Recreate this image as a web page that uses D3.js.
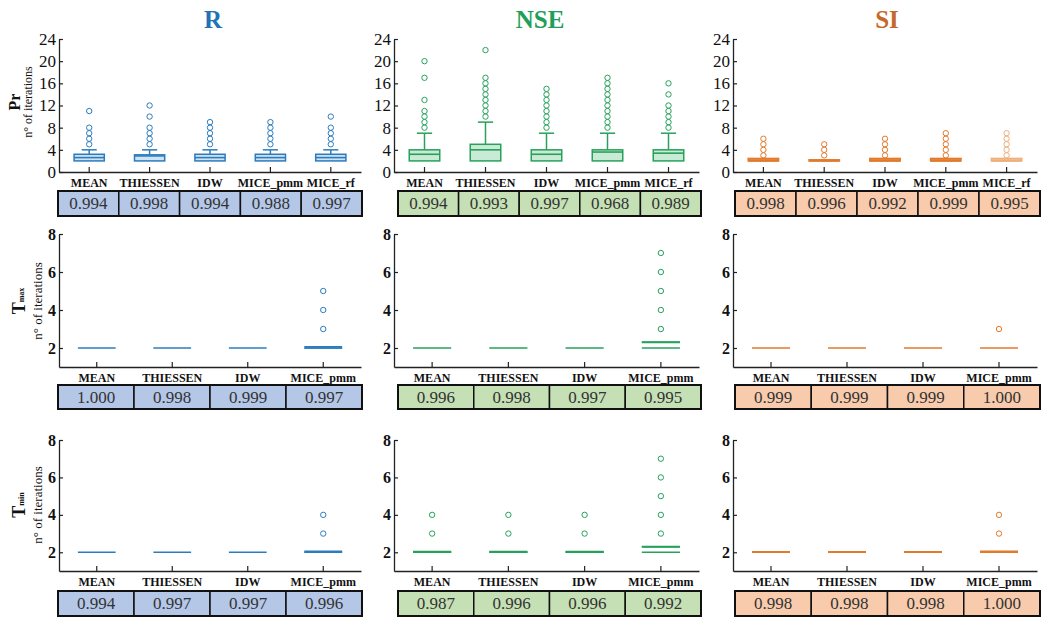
<!DOCTYPE html>
<html>
<head>
<meta charset="utf-8">
<script src="https://cdn.jsdelivr.net/npm/d3@7"></script>
<style>
  body { margin: 0; background: #fff; }
  text { font-family: "Liberation Serif", "Times New Roman", serif; }
</style>
</head>
<body>
<div id="chart"></div>
<script>
const width = 1046;
const height = 618;

// Métriques (colonnes) et méthodes (catégories)
const metrics = ["R", "NSE", "SI"];
const methodsPr = ["MEAN", "THIESSEN", "IDW", "MICE_pmm", "MICE_rf"];
const methodsT = ["MEAN", "THIESSEN", "IDW", "MICE_pmm"];
const ticksPr = [0, 4, 8, 12, 16, 20, 24];
const ticksT = [2, 4, 6, 8];

// Boîtes : [q1, médiane, q3, moustache haute]
const prBoxR   = [[2, 2.6, 3.2, 4], [2, 2.9, 3.1, 4], [2, 2.6, 3.2, 4], [2, 2.6, 3.2, 4], [2, 2.6, 3.2, 4]];
const prOutR   = [[5, 6, 7, 8, 11], [5, 6, 7, 8, 10, 12], [5, 6, 7, 8, 9], [5, 6, 7, 8, 9], [5, 6, 7, 8, 10]];
const prBoxNSE = [[2, 3.2, 4, 7], [2, 4, 5, 9], [2, 3.2, 4, 7], [2, 3.6, 4, 7], [2, 3.4, 4, 7]];
const prOutNSE = [[8, 9, 10, 11, 13, 17, 20], [10, 11, 12, 13, 14, 15, 16, 17, 22], [8, 9, 10, 11, 12, 13, 14, 15],
                  [8, 9, 10, 11, 12, 13, 14, 15, 16, 17], [8, 9, 10, 11, 12, 14, 16]];
const prBoxSI  = [[2, 2, 2.45, 2.45], [2, 2, 2.2, 2.2], [2, 2, 2.45, 2.45], [2, 2, 2.45, 2.45], [2, 2, 2.45, 2.45]];
const prOutSI  = [[3, 4, 5, 6], [3, 4, 5], [3, 4, 5, 6], [3, 4, 5, 6, 7], [3, 4, 5, 6, 7]];

const tmaxBoxR   = [[2, 2, 2, 2], [2, 2, 2, 2], [2, 2, 2, 2], [2, 2, 2.06, 2.06]];
const tmaxOutR   = [[], [], [], [3, 4, 5]];
const tmaxBoxNSE = [[2, 2, 2, 2], [2, 2, 2, 2], [2, 2, 2, 2], [2, 2.3, 2.3, 2.3]];
const tmaxOutNSE = [[], [], [], [3, 4, 5, 6, 7]];
const tmaxBoxSI  = [[2, 2, 2, 2], [2, 2, 2, 2], [2, 2, 2, 2], [2, 2, 2, 2]];
const tmaxOutSI  = [[], [], [], [3]];

const tminBoxR   = [[2, 2, 2, 2], [2, 2, 2, 2], [2, 2, 2, 2], [2, 2, 2.06, 2.06]];
const tminOutR   = [[], [], [], [3, 4]];
const tminBoxNSE = [[2, 2, 2.04, 2.04], [2, 2, 2.04, 2.04], [2, 2, 2.04, 2.04], [2, 2.3, 2.3, 2.3]];
const tminOutNSE = [[3, 4], [3, 4], [3, 4], [3, 4, 5, 6, 7]];
const tminBoxSI  = [[2, 2, 2.03, 2.03], [2, 2, 2.03, 2.03], [2, 2, 2.03, 2.03], [2, 2, 2.06, 2.06]];
const tminOutSI  = [[], [], [], [3, 4]];

// Scores du tableau sous chaque graphique
const prScoreR   = ["0.994", "0.998", "0.994", "0.988", "0.997"];
const prScoreNSE = ["0.994", "0.993", "0.997", "0.968", "0.989"];
const prScoreSI  = ["0.998", "0.996", "0.992", "0.999", "0.995"];
const tmaxScoreR   = ["1.000", "0.998", "0.999", "0.997"];
const tmaxScoreNSE = ["0.996", "0.998", "0.997", "0.995"];
const tmaxScoreSI  = ["0.999", "0.999", "0.999", "1.000"];
const tminScoreR   = ["0.994", "0.997", "0.997", "0.996"];
const tminScoreNSE = ["0.987", "0.996", "0.996", "0.992"];
const tminScoreSI  = ["0.998", "0.998", "0.998", "1.000"];

// Couleurs par métrique
const titleColor = ["#2173b5", "#1f9f59", "#c4692a"];
const strokeColor = ["#2c7cbd", "#27a15c", "#e27a2c"];
const boxFill = ["#cfe3f4", "#c9ead4", "#e8853a"];
const tableFill = ["#b4c7e7", "#c5e0b4", "#f8cbad"];

// Mise en page
const colX0 = [59, 394, 733];
const colX1 = [361, 699, 1037];
const tableX = [[58, 362], [398, 701], [735, 1040]];
const titleX = [213, 540, 887];

const rows = [
  { name: "Pr", sub: null, methods: methodsPr, domain: [0, 24], range: [172, 39], ticks: ticksPr,
    box: [prBoxR, prBoxNSE, prBoxSI], out: [prOutR, prOutNSE, prOutSI], score: [prScoreR, prScoreNSE, prScoreSI],
    table: [191, 216], labelY: 102, tickBold: false },
  { name: "T", sub: "max", methods: methodsT, domain: [1, 8], range: [367, 234], ticks: ticksT,
    box: [tmaxBoxR, tmaxBoxNSE, tmaxBoxSI], out: [tmaxOutR, tmaxOutNSE, tmaxOutSI], score: [tmaxScoreR, tmaxScoreNSE, tmaxScoreSI],
    table: [385, 409], labelY: 301, tickBold: true },
  { name: "T", sub: "min", methods: methodsT, domain: [1, 8], range: [571, 440], ticks: ticksT,
    box: [tminBoxR, tminBoxNSE, tminBoxSI], out: [tminOutR, tminOutNSE, tminOutSI], score: [tminScoreR, tminScoreNSE, tminScoreSI],
    table: [591, 616], labelY: 505, tickBold: true }
];

const svg = d3.select("#chart")
  .append("svg")
  .attr("width", width)
  .attr("height", height);

// Titres
svg.selectAll("text.title")
  .data(metrics)
  .enter().append("text")
  .attr("class", "title")
  .attr("x", (d, i) => titleX[i])
  .attr("y", 28)
  .attr("text-anchor", "middle")
  .attr("font-size", "25px")
  .attr("font-weight", "bold")
  .attr("fill", (d, i) => titleColor[i])
  .text(d => d);

rows.forEach((row, r) => {
  const y = d3.scaleLinear().domain(row.domain).range(row.range);

  // Libellé de l'axe Y (première colonne seulement)
  const t = svg.append("text")
    .attr("transform", `translate(${r === 0 ? 14 : 19}, ${row.labelY}) rotate(-90)`)
    .attr("text-anchor", "middle")
    .attr("dominant-baseline", "central")
    .attr("font-weight", "bold")
    .attr("font-size", r === 0 ? "16px" : "18px")
    .attr("fill", "#111")
    .text(row.name);
  if (row.sub) {
    t.append("tspan")
      .attr("font-size", "8px")
      .attr("dy", "0.3em")
      .text(row.sub);
  }
  svg.append("text")
    .attr("transform", `translate(${r === 0 ? 28 : 37}, ${row.labelY}) rotate(-90)`)
    .attr("text-anchor", "middle")
    .attr("dominant-baseline", "central")
    .attr("font-size", r === 0 ? "12px" : "13px")
    .attr("fill", "#111")
    .text("n° of iterations");

  metrics.forEach((m, c) => {
    const x = d3.scaleBand().domain(row.methods).range([colX0[c], colX1[c]]);
    const g = svg.append("g");

    // Axe Y
    const yAxis = g.append("g")
      .attr("transform", `translate(${colX0[c]},0)`)
      .call(d3.axisLeft(y).tickValues(row.ticks).tickFormat(d3.format("d"))
        .tickSizeInner(-4).tickSizeOuter(0).tickPadding(3));
    yAxis.selectAll("text")
      .attr("font-size", row.tickBold ? "16px" : "17px")
      .attr("font-weight", row.tickBold ? "bold" : "normal")
      .attr("fill", "#111");

    // Axe X
    const xAxis = g.append("g")
      .attr("transform", `translate(0,${row.range[0]})`)
      .call(d3.axisBottom(x).tickSizeInner(-5).tickSizeOuter(0).tickPadding(6));
    xAxis.selectAll("text")
      .attr("font-size", "12px")
      .attr("font-weight", "bold")
      .attr("fill", "#111");
    g.selectAll(".domain").attr("stroke", "#222").attr("stroke-width", 1.3);
    g.selectAll(".tick line").attr("stroke", "#222").attr("stroke-width", 1.2);

    const bw = x.bandwidth() * 0.5;
    const stats = row.box[c];
    const outs = row.out[c];
    const col = strokeColor[c];

    row.methods.forEach((meth, i) => {
      const [q1, med, q3, hi] = stats[i];
      const cx = x(meth) + x.bandwidth() / 2;
      const light = (c === 2 && i === 4);
      const fillC = light ? "#f2bd8c" : boxFill[c];
      const strokeC = light ? "#eeb07a" : col;

      if (hi > q3) {
        g.append("line")
          .attr("x1", cx).attr("x2", cx)
          .attr("y1", y(q3)).attr("y2", y(hi))
          .attr("stroke", strokeC).attr("stroke-width", 1.5);
        g.append("line")
          .attr("x1", cx - bw / 4).attr("x2", cx + bw / 4)
          .attr("y1", y(hi)).attr("y2", y(hi))
          .attr("stroke", strokeC).attr("stroke-width", 1.5);
      }
      if (q3 > q1 && r === 0) {
        g.append("rect")
          .attr("x", cx - bw / 2)
          .attr("y", y(q3))
          .attr("width", bw)
          .attr("height", y(q1) - y(q3))
          .attr("fill", fillC)
          .attr("stroke", strokeC)
          .attr("stroke-width", 1.5);
      } else if (q3 > q1) {
        // boîtes aplaties : seulement les bords horizontaux
        [q1, q3].forEach(v => {
          g.append("line")
            .attr("x1", cx - bw / 2).attr("x2", cx + bw / 2)
            .attr("y1", y(v)).attr("y2", y(v))
            .attr("stroke", strokeC).attr("stroke-width", 1.5);
        });
      }
      g.append("line")
        .attr("x1", cx - bw / 2).attr("x2", cx + bw / 2)
        .attr("y1", y(med)).attr("y2", y(med))
        .attr("stroke", strokeC)
        .attr("stroke-width", (r > 0 && med > q1) ? 2 : 1.6);

      g.selectAll(null)
        .data(outs[i])
        .enter().append("circle")
        .attr("cx", cx)
        .attr("cy", d => y(d))
        .attr("r", 2.7)
        .attr("fill", "none")
        .attr("stroke", strokeC)
        .attr("stroke-width", 1);
    });

    // Tableau des scores
    const tx = d3.scaleBand().domain(row.methods).range(tableX[c]);
    const tg = svg.append("g");
    tg.selectAll("rect")
      .data(row.score[c])
      .enter().append("rect")
      .attr("x", (d, i) => tx(row.methods[i]))
      .attr("y", row.table[0])
      .attr("width", tx.bandwidth())
      .attr("height", row.table[1] - row.table[0])
      .attr("fill", tableFill[c])
      .attr("stroke", "#111")
      .attr("stroke-width", 1.5);
    tg.append("rect")
      .attr("x", tableX[c][0])
      .attr("y", row.table[0])
      .attr("width", tableX[c][1] - tableX[c][0])
      .attr("height", row.table[1] - row.table[0])
      .attr("fill", "none")
      .attr("stroke", "#111")
      .attr("stroke-width", 2);
    tg.selectAll("text")
      .data(row.score[c])
      .enter().append("text")
      .attr("x", (d, i) => tx(row.methods[i]) + tx.bandwidth() / 2)
      .attr("y", (row.table[0] + row.table[1]) / 2)
      .attr("text-anchor", "middle")
      .attr("dominant-baseline", "central")
      .attr("font-size", "17px")
      .attr("fill", "#333")
      .text(d => d);
  });
});
</script>
</body>
</html>
